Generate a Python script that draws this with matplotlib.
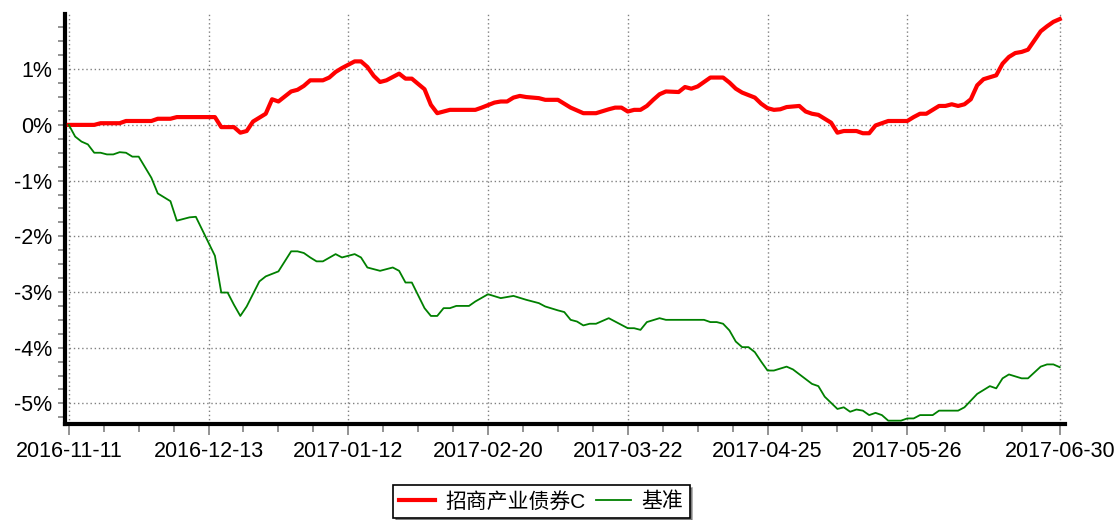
import matplotlib
matplotlib.use("Agg")
import matplotlib.pyplot as plt
from matplotlib.ticker import MultipleLocator, FixedLocator, FuncFormatter
import numpy as np

plt.rcParams["font.family"] = ["Liberation Sans", "Noto Sans CJK SC", "DejaVu Sans"]

# ── data (x = trading-day index, y = cumulative return in %) ────────────────
FUND_LABEL = "招商产业债券C"
BENCH_LABEL = "基准"

FUND_X = [0, 4, 5, 8, 9, 13, 14, 16, 17, 23, 24, 26, 27, 28, 29, 31, 32, 33,
          35, 36, 37, 38, 40, 41, 42, 43, 44, 45, 46, 47, 48, 49, 50, 52, 53,
          54, 56, 57, 58, 60, 64, 65, 67, 68, 69, 70, 71, 72, 74, 75, 77, 78,
          79, 81, 83, 85, 86, 87, 88, 89, 90, 91, 92, 93, 94, 96, 97, 98, 99,
          101, 103, 104, 105, 106, 108, 109, 110, 111, 112, 113, 115, 116, 117,
          118, 120, 121, 122, 124, 125, 126, 127, 128, 129, 132, 133, 134, 135,
          136, 137, 138, 139, 140, 141, 142, 143, 144, 146, 147, 148, 149, 150,
          151, 153, 154, 155, 156]
FUND_Y = [0.00, 0.00, 0.03, 0.03, 0.07, 0.07, 0.11, 0.11, 0.14, 0.14, -0.04,
          -0.04, -0.14, -0.11, 0.06, 0.20, 0.46, 0.42, 0.60, 0.63, 0.70, 0.80,
          0.80, 0.85, 0.95, 1.02, 1.08, 1.14, 1.14, 1.04, 0.88, 0.77, 0.80,
          0.92, 0.83, 0.83, 0.64, 0.36, 0.21, 0.27, 0.27, 0.31, 0.40, 0.42,
          0.42, 0.49, 0.52, 0.50, 0.48, 0.45, 0.45, 0.38, 0.31, 0.21, 0.21,
          0.28, 0.31, 0.31, 0.24, 0.27, 0.27, 0.34, 0.45, 0.55, 0.60, 0.59,
          0.68, 0.65, 0.69, 0.85, 0.85, 0.76, 0.65, 0.58, 0.49, 0.38, 0.30,
          0.27, 0.28, 0.32, 0.34, 0.24, 0.20, 0.18, 0.04, -0.14, -0.11, -0.11,
          -0.15, -0.15, -0.01, 0.03, 0.07, 0.07, 0.14, 0.20, 0.20, 0.27, 0.34,
          0.34, 0.37, 0.34, 0.37, 0.46, 0.71, 0.82, 0.89, 1.10, 1.22, 1.29,
          1.31, 1.35, 1.68, 1.77, 1.85, 1.90]

BENCH_X = [0, 1, 2, 3, 4, 5, 6, 7, 8, 9, 10, 11, 13, 14, 16, 17, 19, 20, 23,
           24, 25, 26, 27, 28, 30, 31, 33, 35, 36, 37, 38, 39, 40, 42, 43, 45,
           46, 47, 49, 51, 52, 53, 54, 56, 57, 58, 59, 60, 61, 63, 64, 66, 68,
           70, 72, 74, 75, 77, 78, 79, 80, 81, 82, 83, 85, 86, 88, 89, 90, 91,
           93, 94, 100, 101, 102, 103, 104, 105, 106, 107, 108, 109, 110, 111,
           113, 114, 117, 118, 119, 121, 122, 123, 124, 125, 126, 127, 128,
           129, 131, 132, 133, 134, 136, 137, 140, 141, 143, 144, 145, 146,
           147, 148, 150, 151, 153, 154, 155, 156]
BENCH_Y = [0.00, -0.21, -0.30, -0.35, -0.50, -0.50, -0.53, -0.53, -0.49,
           -0.50, -0.57, -0.57, -0.95, -1.23, -1.37, -1.72, -1.66, -1.65,
           -2.35, -3.01, -3.01, -3.23, -3.43, -3.26, -2.81, -2.72, -2.63,
           -2.27, -2.27, -2.30, -2.38, -2.45, -2.45, -2.32, -2.38, -2.32,
           -2.38, -2.56, -2.62, -2.56, -2.62, -2.83, -2.83, -3.29, -3.43,
           -3.43, -3.29, -3.29, -3.25, -3.25, -3.17, -3.04, -3.11, -3.07,
           -3.14, -3.20, -3.26, -3.33, -3.36, -3.50, -3.53, -3.60, -3.57,
           -3.57, -3.47, -3.53, -3.65, -3.65, -3.68, -3.54, -3.47, -3.50,
           -3.50, -3.54, -3.54, -3.57, -3.69, -3.89, -3.99, -3.99, -4.08,
           -4.25, -4.41, -4.41, -4.34, -4.39, -4.65, -4.69, -4.88, -5.10,
           -5.07, -5.15, -5.11, -5.13, -5.21, -5.17, -5.21, -5.31, -5.31,
           -5.27, -5.27, -5.21, -5.21, -5.13, -5.13, -5.07, -4.83, -4.76,
           -4.69, -4.73, -4.55, -4.48, -4.55, -4.55, -4.34, -4.30, -4.30,
           -4.35]

TICK_POS = [0, 22, 44, 66, 88, 110, 132, 156]
TICK_LABELS = ["2016-11-11", "2016-12-13", "2017-01-12", "2017-02-20",
               "2017-03-22", "2017-04-25", "2017-05-26", "2017-06-30"]

# ── figure ──────────────────────────────────────────────────────────────────
fig = plt.figure(figsize=(11.15, 5.2), dpi=100)
ax = fig.add_axes([0.0583, 0.1846, 0.8967, 0.7884])

ax.plot(FUND_X, FUND_Y, color="#ff0000", linewidth=3.0, label=FUND_LABEL,
        solid_joinstyle="round", zorder=3)
ax.plot(BENCH_X, BENCH_Y, color="#008000", linewidth=1.3, label=BENCH_LABEL,
        zorder=3)

ax.set_xlim(-0.6, 156.8)
ax.set_ylim(-5.37, 1.99)

# axes / spines
for side in ("top", "right"):
    ax.spines[side].set_visible(False)
for side in ("left", "bottom"):
    ax.spines[side].set_linewidth(3)
    ax.spines[side].set_color("black")

# ticks
minor_x = []
for a, b in zip(TICK_POS[:-1], TICK_POS[1:]):
    minor_x += list(np.linspace(a, b, 5)[1:-1])
ax.xaxis.set_major_locator(FixedLocator(TICK_POS))
ax.xaxis.set_minor_locator(FixedLocator(minor_x))
ax.set_xticklabels(TICK_LABELS)
ax.yaxis.set_major_locator(MultipleLocator(1))
ax.yaxis.set_minor_locator(MultipleLocator(0.25))
ax.yaxis.set_major_formatter(FuncFormatter(lambda v, p: f"{int(round(v))}%"))

ax.tick_params(axis="x", which="major", length=8, width=1.2, color="#808080",
               pad=4, labelsize=15.5)
ax.tick_params(axis="x", which="minor", length=6, width=1.2, color="#808080")
ax.tick_params(axis="y", which="major", length=5, width=1.2, color="#808080",
               pad=4, labelsize=15.5)
ax.tick_params(axis="y", which="minor", length=5, width=1.2, color="#808080")

ax.grid(which="major", color="#808080", linestyle=(0, (1, 2)), linewidth=1.0)

# legend
leg = fig.legend(loc="upper left", bbox_to_anchor=(0.3525, 0.067), ncol=2,
                 borderaxespad=0, fontsize=15, frameon=True, fancybox=False,
                 shadow=True, handlelength=1.7, handletextpad=0.5,
                 columnspacing=0.5, borderpad=0.3)
leg.get_frame().set_edgecolor("black")
leg.get_frame().set_linewidth(1.2)

fig.savefig("out.png", dpi=100)
